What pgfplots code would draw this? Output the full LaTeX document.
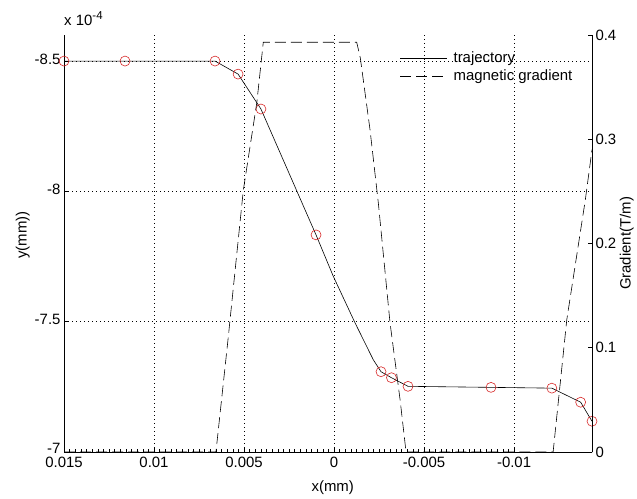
\documentclass[border=0pt]{standalone}
\usepackage{fontspec}
\setmainfont{Liberation Sans}
\usepackage{pgfplots}
\usepackage{pgfplotstable}
\pgfplotsset{compat=1.18}
\definecolor{mred}{RGB}{215,40,40}

% trajectory: x (mm), y (units of 1e-4 mm)
\pgfplotstableread{
x y
0.01500 -8.500
0.01161 -8.500
0.00661 -8.500
0.00533 -8.450
0.00406 -8.316
0.00100 -7.833
0.00004 -7.674
-0.00117 -7.495
-0.00218 -7.354
-0.00261 -7.308
-0.00319 -7.285
-0.00411 -7.252
-0.00872 -7.248
-0.01210 -7.245
-0.01370 -7.191
-0.01433 -7.118
}\trajline

\pgfplotstableread{
x y
0.01500 -8.500
0.01161 -8.500
0.00661 -8.500
0.00533 -8.450
0.00406 -8.316
0.00100 -7.833
-0.00261 -7.308
-0.00319 -7.285
-0.00411 -7.252
-0.00872 -7.248
-0.01210 -7.245
-0.01370 -7.191
-0.01433 -7.118
}\trajmarks

% magnetic gradient (T/m)
\pgfplotstableread{
x g
0.01500 0
0.00656 0
0.00587 0.111
0.00504 0.251
0.00429 0.335
0.00393 0.393
-0.00126 0.393
-0.00146 0.378
-0.00200 0.309
-0.00246 0.239
-0.00311 0.124
-0.00367 0.050
-0.00400 0
-0.01217 0
-0.01293 0.127
-0.01396 0.242
-0.01433 0.290
}\grad

\newcommand{\fs}{\fontsize{15}{18}\selectfont}

\begin{document}
\begin{tikzpicture}
\useasboundingbox (0,0) rectangle (637bp,499bp);
\begin{axis}[
  scale only axis, width=528bp, height=417bp,
  at={(64bp,47bp)}, anchor=south west,
  xmin=-0.015, xmax=0.01433, ymin=7, ymax=8.6,
  axis x line*=bottom, axis y line*=left,
  axis line style={black, line width=0.6pt, -},
  xtick={-0.015,-0.01,-0.005,0,0.005,0.01},
  xticklabels={0.015,0.01,0.005,0,-0.005,-0.01},
  ytick={7,7.5,8,8.5},
  yticklabels={\raisebox{4bp}{-7},-7.5,-8,-8.5},
  minor x tick num=15,
  tick align=inside, major tick length=4bp, minor tick length=2.5bp,
  tick style={black, line width=0.5pt},
  scaled ticks=false,
  xmajorgrids, ymajorgrids,
  major grid style={black, line width=0.6pt, dash pattern=on 0.8bp off 3.2bp},
  tick label style={font=\fs},
  xticklabel style={yshift=-1.5bp},
  yticklabel style={yshift=2bp},
  label style={font=\fs},
  xlabel={x(mm)},
  xlabel style={at={(axis description cs:0.509,-0.086)}, anchor=center},
  ylabel={y(mm))},
  ylabel style={at={(axis description cs:-0.078,0.52)}, anchor=center},
  clip=false,
]
\addplot[black, line width=0.6pt] table[x expr=-\thisrow{x}, y expr=-\thisrow{y}] {\trajline};
\addplot[only marks, mark=o, mark size=5bp, mred, mark options={line width=0.6pt}] table[x expr=-\thisrow{x}, y expr=-\thisrow{y}] {\trajmarks};
\node[anchor=base west, font=\fs, inner sep=0pt] at (axis description cs:0,1.022) {x 10\raisebox{0.75ex}{\fontsize{11.5}{13}\selectfont -4}};
\end{axis}
\begin{axis}[
  scale only axis, width=528bp, height=417bp,
  at={(64bp,47bp)}, anchor=south west,
  xmin=-0.015, xmax=0.01433, ymin=0, ymax=0.4,
  hide x axis,
  axis y line*=right,
  axis line style={black, line width=0.6pt, -},
  ytick={0,0.1,0.2,0.3,0.4},
  yticklabels={0,0.1,0.2,0.3,0.4},
  tick align=inside, major tick length=4bp,
  tick style={black, line width=0.5pt},
  tick label style={font=\fs},
  label style={font=\fs},
  ylabel={Gradient(T/m)},
  ylabel style={at={(axis description cs:1.066,0.5)}, anchor=center},
  legend style={draw=none, fill=none, font=\fs, at={(axis description cs:0.636,0.965)}, anchor=north west, inner sep=0pt, row sep=2bp, column sep=4bp, cells={anchor=west}},
  legend image code/.code={\draw[#1] (0bp,0bp) -- (47bp,0bp);},
]
\addlegendimage{black, line width=0.6pt}
\addlegendentry{trajectory}
\addplot[black, line width=0.6pt, dash pattern=on 11bp off 5bp] table[x expr=-\thisrow{x}, y=g] {\grad};
\addlegendentry{magnetic gradient}
\end{axis}
\end{tikzpicture}
\end{document}
